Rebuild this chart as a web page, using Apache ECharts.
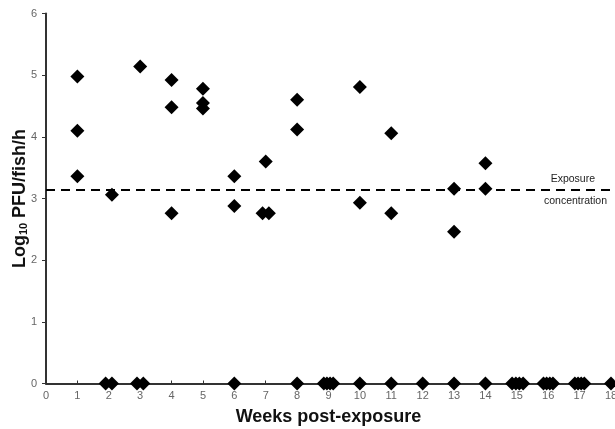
<!DOCTYPE html>
<html>
<head>
<meta charset="utf-8">
<script src="https://cdn.jsdelivr.net/npm/echarts@6/dist/echarts.min.js"></script>
<style>html,body{margin:0;padding:0;background:#fff;}#c{width:615px;height:429px;}</style>
</head>
<body>
<div id="c"></div>
<script>
// Detected samples (week, log10 PFU/fish/h)
var detectedWeeks = [1, 1, 1, 2.1, 3, 4, 4, 4, 5, 5, 5, 6, 6, 7, 6.9, 7.1, 8, 8, 10, 10, 11, 11, 13, 13, 14, 14];
var detectedValues = [4.98, 4.10, 3.36, 3.06, 5.14, 4.92, 4.48, 2.76, 4.78, 4.55, 4.46, 3.36, 2.88, 3.60, 2.76, 2.76, 4.60, 4.12, 4.81, 2.93, 4.06, 2.76, 3.16, 2.46, 3.57, 3.16];
// Non-detected samples (value 0)
var zeroWeeks = [1.9, 2.1, 2.9, 3.1, 6, 8, 8.85, 8.95, 9.05, 9.15, 10, 11, 12, 13, 14, 14.85, 14.97, 15.08, 15.2, 15.85, 15.95, 16.05, 16.15, 16.85, 16.95, 17.05, 17.15, 18];
var zeroValues = [0, 0, 0, 0, 0, 0, 0, 0, 0, 0, 0, 0, 0, 0, 0, 0, 0, 0, 0, 0, 0, 0, 0, 0, 0, 0, 0, 0];
var exposureConcentration = 3.15;
var xTicks = [0, 18, 1];
var yTicks = [0, 6, 1];

var pts = detectedWeeks.map(function (w, i) { return [w, detectedValues[i]]; });
var zpts = zeroWeeks.map(function (w, i) { return [w, zeroValues[i]]; });

var chart = echarts.init(document.getElementById('c'), null, {renderer: 'canvas'});
chart.setOption({
  animation: false,
  backgroundColor: '#fff',
  grid: {left: 46, right: 4, top: 13.5, bottom: 45.5, containLabel: false, outerBoundsMode: 'none'},
  xAxis: {
    type: 'value', min: xTicks[0], max: xTicks[1], interval: xTicks[2],
    name: 'Weeks post-exposure', nameLocation: 'middle', nameGap: 25, nameMoveOverlap: false,
    nameTextStyle: {fontFamily: 'Liberation Sans, Arial', fontWeight: 'bold', fontSize: 18, color: '#111'},
    axisLine: {lineStyle: {color: '#333', width: 2}},
    axisTick: {show: true, inside: true, length: 3, lineStyle: {color: '#333'}},
    axisLabel: {color: '#666', fontFamily: 'Liberation Sans, Arial', fontSize: 11, margin: 7, showMaxLabel: true},
    splitLine: {show: false}
  },
  yAxis: {
    type: 'value', min: yTicks[0], max: yTicks[1], interval: yTicks[2],
    name: '{b|Log}{s|10}{b| PFU/fish/h}', nameLocation: 'middle', nameGap: 17, nameRotate: 90, nameMoveOverlap: false,
    nameTextStyle: {
      rich: {
        b: {fontFamily: 'Liberation Sans, Arial', fontWeight: 'bold', fontSize: 18, color: '#111'},
        s: {fontFamily: 'Liberation Sans, Arial', fontWeight: 'bold', fontSize: 11, color: '#111', verticalAlign: 'bottom', padding: [7, 0, 0, 0]}
      }
    },
    axisLine: {show: true, lineStyle: {color: '#333', width: 2}},
    axisTick: {show: true, length: 4, lineStyle: {color: '#333'}},
    axisLabel: {color: '#666', fontFamily: 'Liberation Sans, Arial', fontSize: 11, margin: 9},
    splitLine: {show: false}
  },
  series: [
    {
      type: 'scatter', data: zpts, symbol: 'diamond', symbolSize: 14,
      itemStyle: {color: '#000', opacity: 1}, z: 3
    },
    {
      type: 'scatter', data: pts, symbol: 'diamond', symbolSize: 14,
      itemStyle: {color: '#000', opacity: 1}, z: 3,
      markLine: {
        silent: true, symbol: 'none',
        lineStyle: {color: '#000', type: [9, 6], width: 2},
        data: [
          {yAxis: exposureConcentration, label: {show: true, position: 'insideEndTop', formatter: 'Exposure', color: '#222', fontFamily: 'Liberation Sans, Arial', fontSize: 10.5, distance: [16, 5]}},
          {yAxis: exposureConcentration, label: {show: true, position: 'insideEndBottom', formatter: 'concentration', color: '#222', fontFamily: 'Liberation Sans, Arial', fontSize: 10.5, distance: [4, 6]}}
        ]
      }
    }
  ]
});
</script>
</body>
</html>
